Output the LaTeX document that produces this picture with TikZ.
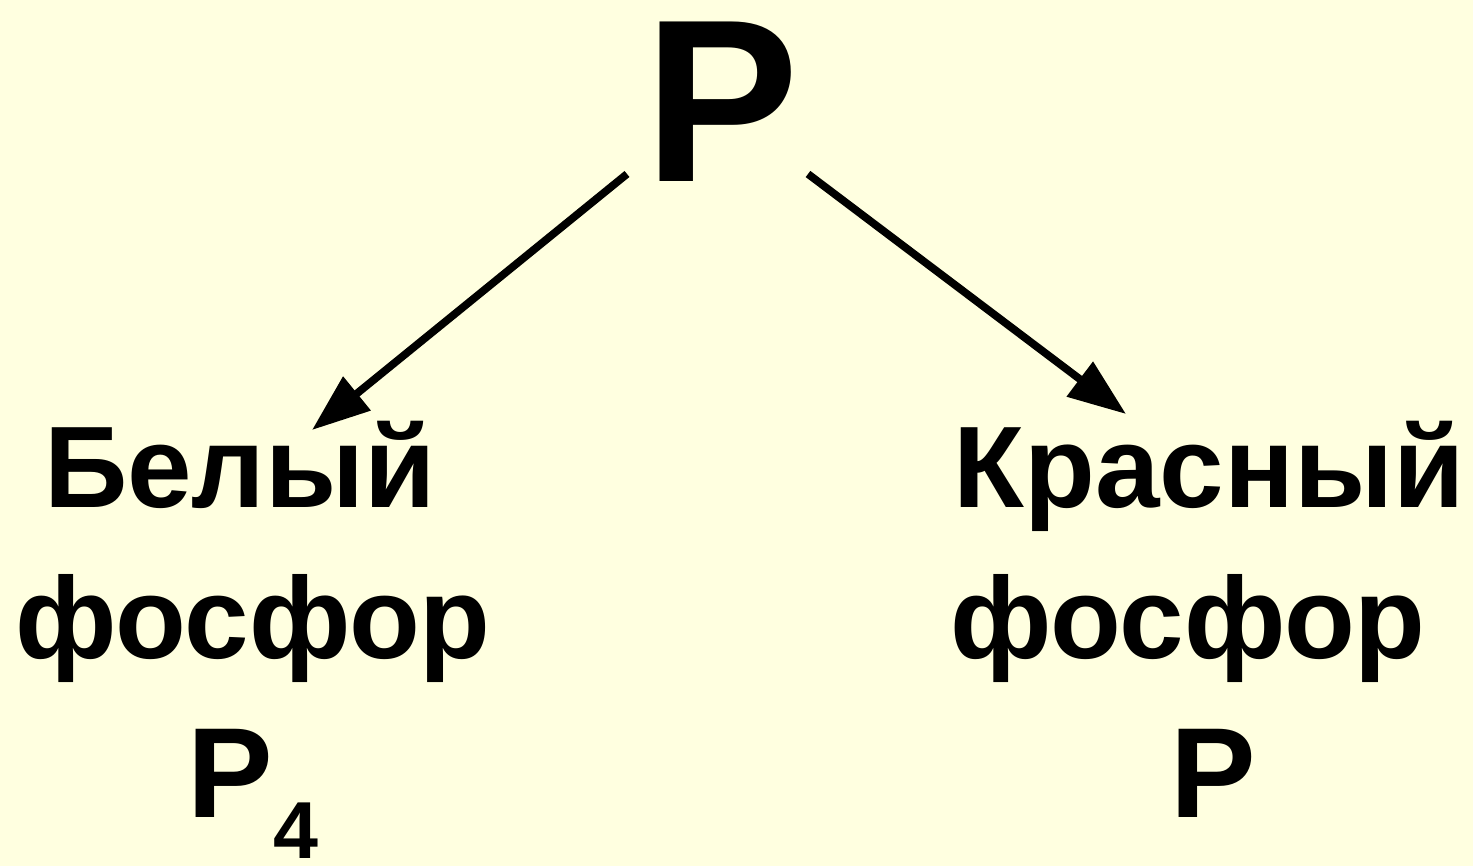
\documentclass[tikz,border=0pt]{standalone}
\usepackage{fontspec}
\setmainfont{Liberation Sans}
\usetikzlibrary{arrows.meta}
\definecolor{paper}{RGB}{255,255,224}
\tikzset{
  word/.style={font=\fontsize{33}{40}\selectfont\bfseries,anchor=base,inner sep=0},
  formula/.style={font=\fontsize{36.5}{40}\selectfont\bfseries,anchor=base,inner sep=0},
  branch/.style={line width=2.2pt,-{Triangle[length=5.8mm,width=4.2mm]}}
}

\begin{document}
\begin{tikzpicture}
%background
\fill[paper](0,0)rectangle(14.73,8.66);
\useasboundingbox(0,0)rectangle(14.73,8.66);
%element
\node[anchor=base,inner sep=0,font=\fontsize{66}{70}\selectfont\bfseries](top)at(7.22,6.84){P};
%white phosphorus
\node[word](white1)at(2.40,3.58){Белый};
\node[word](white2)at(2.53,2.08){фосфор};
\node[formula](white3)at(2.53,0.49){P{\fontsize{23}{24}\selectfont\raisebox{-0.41cm}{4}}};
%red phosphorus
\node[word](red1)at(12.09,3.58){Красный};
\node[word](red2)at(11.88,2.08){фосфор};
\node[formula](red3)at(12.13,0.49){P};
%arrows
\coordinate(lstart)at(6.27,6.92);
\coordinate(ltip)at(3.12,4.36);
\coordinate(rstart)at(8.08,6.92);
\coordinate(rtip)at(11.26,4.52);
\draw[branch](lstart)--(ltip);
\draw[branch](rstart)--(rtip);
\end{tikzpicture}
\end{document}
